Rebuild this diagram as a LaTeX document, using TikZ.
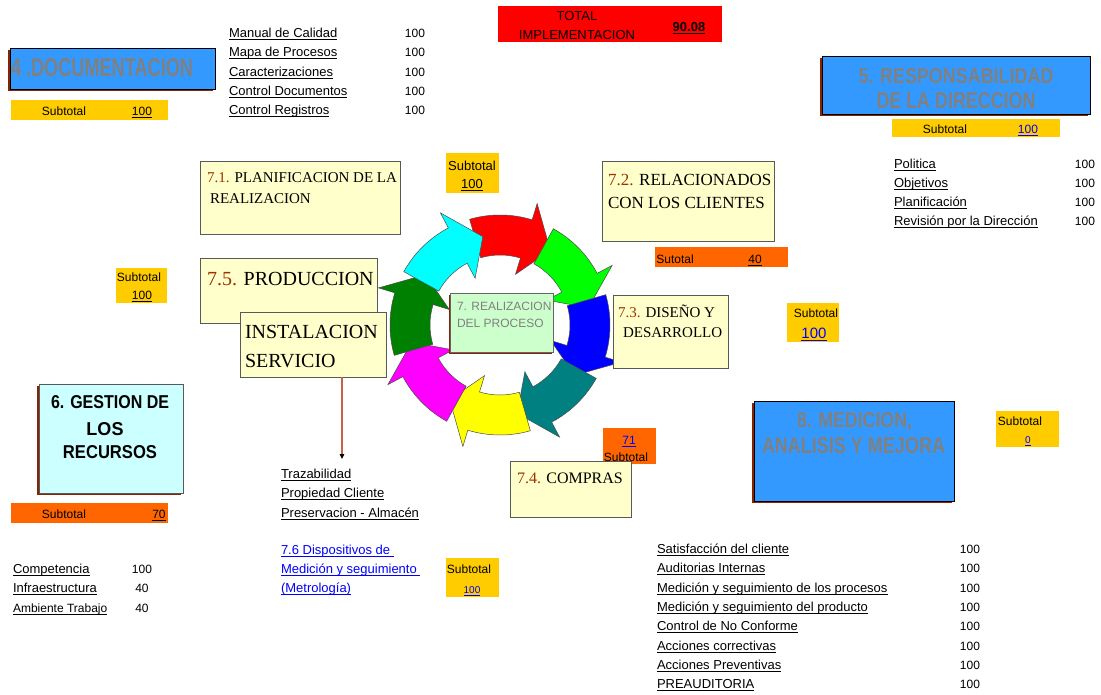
\documentclass[tikz,border=0pt]{standalone}
\usepackage{fontspec}
\setmainfont{Liberation Serif}
\setsansfont{Liberation Sans}
\usepackage{graphicx}
\usetikzlibrary{arrows.meta, shadows}

\definecolor{hdrblue}{HTML}{3399FF}
\definecolor{hdrgray}{HTML}{808080}
\definecolor{subyellow}{HTML}{FFCC00}
\definecolor{suborange}{HTML}{FF6600}
\definecolor{totred}{HTML}{FF0000}
\definecolor{secyellow}{HTML}{FFFFCC}
\definecolor{seccyan}{HTML}{CCFFFF}
\definecolor{secgreen}{HTML}{CCFFCC}
\definecolor{secbrown}{HTML}{993300}
\definecolor{shadowred}{HTML}{882200}
\definecolor{linkblue}{HTML}{0000FF}
\definecolor{trzline}{HTML}{C8604A}
\definecolor{arRed}{HTML}{FF0000}
\definecolor{arGreen}{HTML}{00FF00}
\definecolor{arBlue}{HTML}{0000FF}
\definecolor{arTeal}{HTML}{008080}
\definecolor{arYellow}{HTML}{FFFF00}
\definecolor{arMagenta}{HTML}{FF00FF}
\definecolor{arDkGreen}{HTML}{008000}
\definecolor{arCyan}{HTML}{00FFFF}

\newsavebox\ulbox
\newcommand\ulbl[1]{\sbox\ulbox{#1}\usebox\ulbox\llap{\rule[-2.6pt]{\wd\ulbox}{1.1pt}}}
\newcommand\fs[2]{\fontsize{#1}{#2}\selectfont}
\newcommand\hdr[3]{\resizebox{#1pt}{#2pt}{\sffamily\bfseries #3}}
\newcommand\secno[1]{\textcolor{secbrown}{#1}}
\newcommand\lnk[1]{\textcolor{linkblue}{\ulbl{#1}}}

\tikzset{
    every node/.style={inner sep=0pt, outer sep=0pt},
    txt/.style={anchor=base, font=\sffamily\fs{12}{14}},
    listitem/.style={anchor=base west, font=\sffamily\fs{13}{15}},
    listval/.style={anchor=base, font=\sffamily\fs{12}{14}},
    subbar/.style={anchor=north west, fill=subyellow},
    hdrbox/.style={anchor=north west, draw=black, fill=hdrblue,
        drop shadow={shadow xshift=-2pt, shadow yshift=-2pt, fill=shadowred, opacity=1}},
    hdrline/.style={anchor=base, text=hdrgray},
    secbox/.style={anchor=north west, draw=black!65, fill=secyellow},
    sectxt/.style={anchor=base west, font=\rmfamily\fs{#1}{#1}},
    sectxt/.default=15,
    ringarrow/.style={draw=black!70, line width=0.5pt}
}

\begin{document}
\begin{tikzpicture}[x=1pt, y=-1pt]
\useasboundingbox[fill=white] (0,0) rectangle (1101,694);

% cycle of arrows
\begin{scope}[shift={(500,325)}, yscale=-1]
\foreach \col [count=\k from 0] in {arRed,arGreen,arBlue,arTeal,arYellow,arMagenta,arDkGreen,arCyan}{
    \pgfmathsetmacro\ta{106-45*\k}
    \pgfmathsetmacro\tb{\ta-33}
    \pgfmathsetmacro\tc{\ta-50}
    \filldraw[ringarrow, fill=\col] (\ta:110) arc[start angle=\ta, end angle=\tb, radius=110]
        -- (\tb:127) -- (\tc:90) -- (\tb:53) -- (\tb:70)
        arc[start angle=\tb, end angle=\ta, radius=70] -- cycle;
}
\end{scope}

% centre box
\node[anchor=north west, draw=black!60, fill=secgreen, minimum width=103, minimum height=59,
    drop shadow={shadow xshift=-1.5pt, shadow yshift=-1.5pt, fill=shadowred, opacity=1}] (real) at (450,293) {};
\node[anchor=base west, font=\sffamily\fs{12}{14}, text=hdrgray] (realA) at (457,310) {7. REALIZACION};
\node[anchor=base west, font=\sffamily\fs{12}{14}, text=hdrgray] (realB) at (457,327) {DEL PROCESO};

% total
\node[anchor=north west, fill=totred, minimum width=224, minimum height=36] (total) at (498,6) {};
\node[txt, font=\sffamily\fs{13}{15}] (totalA) at (577,20) {TOTAL};
\node[txt, font=\sffamily\fs{13}{15}] (totalB) at (577,39) {IMPLEMENTACION};
\node[txt, font=\sffamily\bfseries\fs{13}{15}] (totalVal) at (689,31) {\ulbl{90.08}};

% 4. documentacion
\node[hdrbox, minimum width=205, minimum height=41] (docHdr) at (10,48) {};
\node[hdrline, anchor=base west] (docTtl) at (11,76) {\hdr{182}{18}{4 .DOCUMENTACION}};
\node[subbar, minimum width=157, minimum height=20] (docSub) at (11,100) {};
\node[txt] (docSubA) at (64,115) {Subtotal};
\node[txt] (docSubV) at (142,115) {\ulbl{100}};
\foreach \txt [count=\i] in {Manual de Calidad, Mapa de Procesos, Caracterizaciones, Control Documentos, Control Registros}{
    \node[listitem] (doc\i) at (229,{18.25+19.25*\i}) {\ulbl{\txt}};
    \node[listval] (docv\i) at (415,{18.25+19.25*\i}) {100};
}

% 5. responsabilidad de la direccion
\node[hdrbox, minimum width=268, minimum height=58] (respHdr) at (822,56) {};
\node[hdrline] (respTtlA) at (956,83) {\hdr{195}{15}{5. RESPONSABILIDAD}};
\node[hdrline] (respTtlB) at (956,108) {\hdr{159}{16}{DE LA DIRECCION}};
\node[subbar, minimum width=168, minimum height=18] (respSub) at (892,119) {};
\node[txt] (respSubA) at (945,133) {Subtotal};
\node[txt] (respSubV) at (1028,133) {\lnk{100}};
\foreach \txt [count=\i] in {Politica, Objetivos, Planificación, Revisión por la Dirección}{
    \node[listitem] (resp\i) at (894,{149.5+19*\i}) {\ulbl{\txt}};
    \node[listval] (respv\i) at (1085,{149.5+19*\i}) {100};
}

% 7.1 planificacion
\node[secbox, minimum width=200, minimum height=73] (plan) at (200,161) {};
\node[sectxt=15] (planA) at (207,182) {\secno{7.1.} PLANIFICACION DE LA};
\node[sectxt=15] (planB) at (210,203) {REALIZACION};
\node[subbar, minimum width=53, minimum height=40] (planSub) at (446,153) {};
\node[txt, font=\sffamily\fs{13}{15}] (planSubA) at (472,170) {Subtotal};
\node[txt, font=\sffamily\fs{13}{15}] (planSubV) at (472,188) {\ulbl{100}};

% 7.2 relacionados con los clientes
\node[secbox, minimum width=172, minimum height=80] (relac) at (602,161) {};
\node[sectxt=17] (relacA) at (608,185) {\secno{7.2.} RELACIONADOS};
\node[sectxt=17] (relacB) at (608,208) {CON LOS CLIENTES};
\node[subbar, fill=suborange, minimum width=133, minimum height=20] (relacSub) at (655,247) {};
\node[txt] (relacSubA) at (675,263) {Sutotal};
\node[txt] (relacSubV) at (755,263) {\ulbl{40}};

% 7.3 diseno y desarrollo
\node[secbox, minimum width=115, minimum height=73] (disen) at (613,295) {};
\node[sectxt=15] (disenA) at (618,317) {\secno{7.3.} DISEÑO Y};
\node[sectxt=15] (disenB) at (623,337) {DESARROLLO};
\node[subbar, minimum width=52, minimum height=39] (disenSub) at (787,303) {};
\node[txt] (disenSubA) at (816,317) {Subtotal};
\node[txt, font=\sffamily\fs{15}{17}] (disenSubV) at (814,338) {\lnk{100}};

% 7.5 produccion / instalacion servicio
\node[secbox, minimum width=177, minimum height=65] (prod) at (200,258) {};
\node[sectxt=20] (prodA) at (207,285) {\secno{7.5.} PRODUCCION};
\node[secbox, minimum width=146, minimum height=65] (instal) at (240,312) {};
\node[sectxt=20] (instalA) at (245,338) {INSTALACION};
\node[sectxt=20] (instalB) at (245,367) {SERVICIO};
\node[subbar, minimum width=51, minimum height=35] (prodSub) at (116,268) {};
\node[txt] (prodSubA) at (139,281) {Subtotal};
\node[txt] (prodSubV) at (142,299) {\ulbl{100}};

\coordinate (trzTop) at (342,459);
\draw[trzline, line width=1.6pt, -{Triangle[length=5pt, width=4.5pt, black]}] (instal.south -| trzTop) -- (trzTop);
\foreach \txt [count=\i] in {Trazabilidad, Propiedad Cliente, Preservacion - Almacén}{
    \node[listitem] (trz\i) at (281,{458.5+19.5*\i}) {\ulbl{\txt}};
}
\node[listitem] (metA) at (281,554) {\lnk{7.6 Dispositivos de~}};
\node[listitem] (metB) at (281,573) {\lnk{Medición y seguimiento~}};
\node[listitem] (metC) at (281,592) {\lnk{(Metrología)}};
\node[subbar, minimum width=53, minimum height=39] (metSub) at (446,558) {};
\node[txt] (metSubA) at (469,573) {Subtotal};
\node[txt, font=\sffamily\fs{10}{12}] (metSubV) at (472,593) {\lnk{100}};

% 7.4 compras
\node[subbar, fill=suborange, minimum width=53, minimum height=36] (compSub) at (603,428) {};
\node[txt] (compSubV) at (629,444) {\lnk{71}};
\node[secbox, minimum width=121, minimum height=56] (compras) at (510,461) {};
\node[txt] (compSubA) at (626,461) {Subtotal};
\node[sectxt=16] (comprasA) at (517,483) {\secno{7.4.} COMPRAS};

% 6. gestion de los recursos
\node[anchor=north west, draw=black!65, fill=seccyan, minimum width=144, minimum height=109,
    drop shadow={shadow xshift=-2pt, shadow yshift=-2pt, fill=shadowred, opacity=1}] (gest) at (39,384) {};
\node[anchor=base] (gestA) at (110,408) {\hdr{118}{13}{6. GESTION DE}};
\node[anchor=base] (gestB) at (105,435) {\hdr{37}{13}{LOS}};
\node[anchor=base] (gestC) at (110,458) {\hdr{94}{13}{RECURSOS}};
\node[subbar, fill=suborange, minimum width=157, minimum height=20] (gestSub) at (11,503) {};
\node[txt] (gestSubA) at (64,518) {Subtotal};
\node[txt] (gestSubV) at (159,518) {\ulbl{70}};
\node[listitem] (gest1) at (13,573) {\ulbl{Competencia}};
\node[listitem] (gest2) at (13,592) {\ulbl{Infraestructura}};
\node[listitem, font=\sffamily\fs{12}{14}] (gest3) at (13,612) {\ulbl{Ambiente Trabajo}};
\node[listval] (gestv1) at (142,573) {100};
\node[listval] (gestv2) at (142,592) {40};
\node[listval] (gestv3) at (142,612) {40};

% 8. medicion, analisis y mejora
\node[hdrbox, minimum width=200, minimum height=100] (medHdr) at (754,401) {};
\node[hdrline] (medTtlA) at (854.5,427) {\hdr{115}{15}{8. MEDICION,}};
\node[hdrline] (medTtlB) at (853.5,453) {\hdr{183}{16}{ANALISIS Y MEJORA}};
\node[subbar, minimum width=63, minimum height=36] (medSub) at (996,411) {};
\node[txt] (medSubA) at (1020,425) {Subtotal};
\node[txt, font=\sffamily\fs{10}{12}] (medSubV) at (1028,443) {\lnk{0}};
\foreach \txt [count=\i] in {Satisfacción del cliente, Auditorias Internas, Medición y seguimiento de los procesos,
    Medición y seguimiento del producto, Control de No Conforme, Acciones correctivas, Acciones Preventivas, PREAUDITORIA}{
    \node[listitem] (med\i) at (657,{534.2+19.3*\i}) {\ulbl{\txt}};
    \node[listval] (medv\i) at (970,{534.2+19.3*\i}) {100};
}
\end{tikzpicture}
\end{document}
